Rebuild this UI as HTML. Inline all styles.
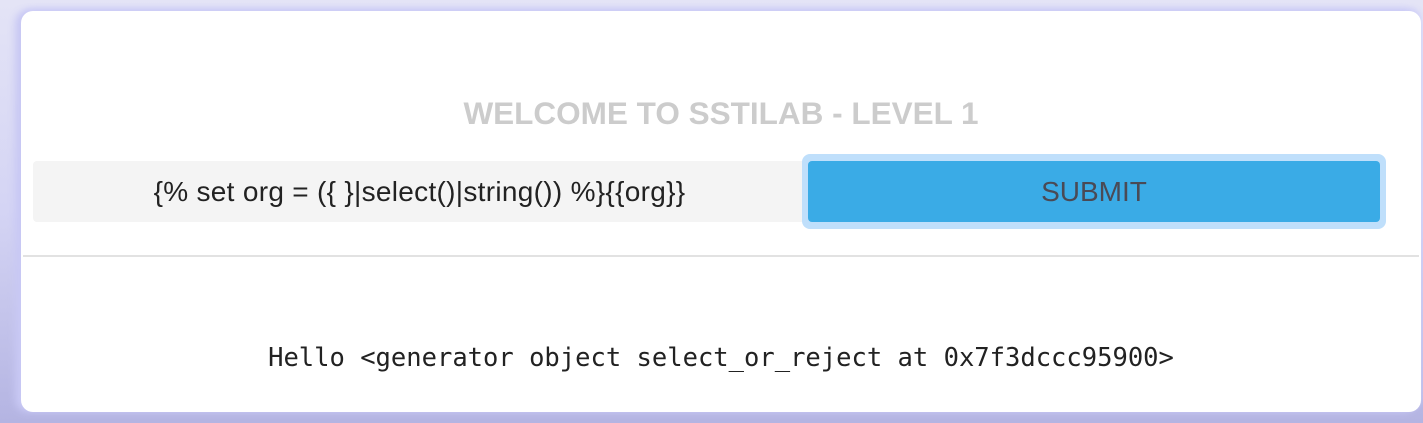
<!DOCTYPE html>
<html><head><style>
body{margin:0;width:1423px;height:423px;overflow:hidden;background:linear-gradient(180deg,#e4e4f6 0%,#d4d4f4 50%,#b4b4e2 100%);position:relative;font-family:"Liberation Sans",sans-serif}
.card{position:absolute;left:21px;top:11px;width:1400px;height:401px;background:#fff;border-radius:12px;box-shadow:-6px 0 8px #c8c8f4, 0 -3px 6px #d0d0f8}
.t{position:absolute;left:0;width:1400px;top:84px;text-align:center;font-weight:bold;font-size:31.5px;color:#cccccc}
.in{position:absolute;left:12px;top:150px;width:773px;height:61px;background:#f4f4f4;border-radius:4px;font-size:28px;color:#222;text-align:center;line-height:61px;letter-spacing:0.3px}
.ring{position:absolute;left:781px;top:143px;width:584px;height:75px;background:#bfdffb;border-radius:8px}
.btn{position:absolute;left:787px;top:150px;width:572px;height:61px;background:#3aabe6;border-radius:4px;font-size:28px;color:#4a4a55;text-align:center;line-height:61px}
.hr{position:absolute;left:2px;top:244px;width:1396px;height:2px;background:#e2e2e2}
.h{position:absolute;left:0;width:1400px;top:332px;text-align:center;font-family:"DejaVu Sans Mono","Liberation Mono",monospace;font-size:25.5px;color:#222}
</style></head><body>
<div class="card">
<div class="t">WELCOME TO SSTILAB - LEVEL 1</div>
<div class="in">{% set org = ({ }|select()|string()) %}{{org}}</div>
<div class="ring"></div>
<div class="btn">SUBMIT</div>
<div class="hr"></div>
<div class="h">Hello &lt;generator object select_or_reject at 0x7f3dccc95900&gt;</div>
</div>
</body></html>
